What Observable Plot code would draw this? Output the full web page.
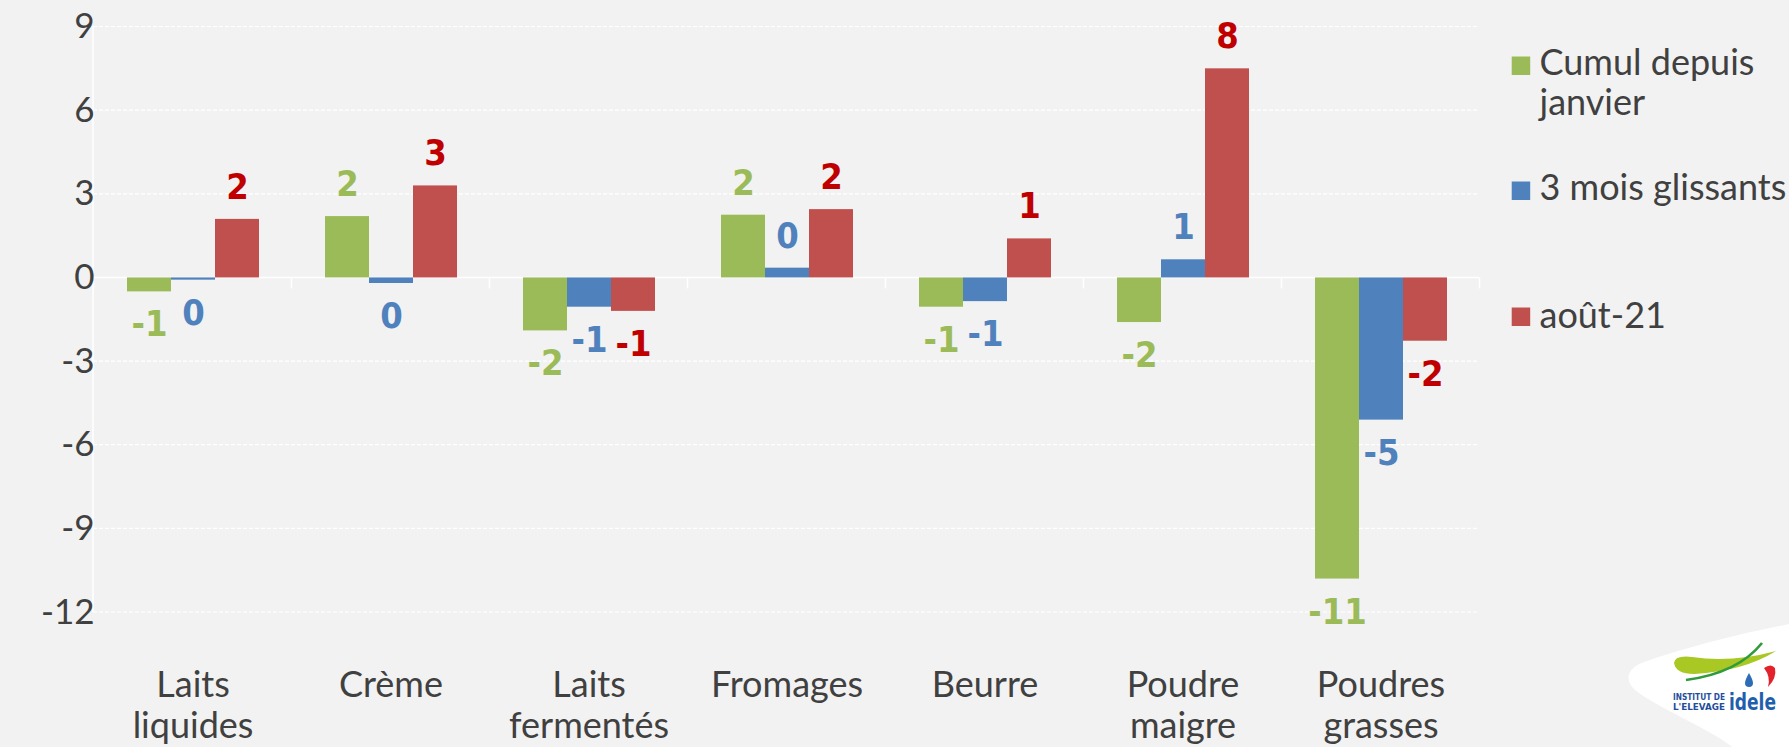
<!DOCTYPE html>
<html>
<head>
<meta charset="utf-8">
<script src="https://cdn.jsdelivr.net/npm/d3@7"></script>
<script src="https://cdn.jsdelivr.net/npm/@observablehq/plot@0.6"></script>
<style>
html, body { margin: 0; padding: 0; background: #F2F2F2; }
#wrap { position: relative; width: 1789px; height: 747px; overflow: hidden; background: #F2F2F2; font-family: Lato, sans-serif; }
#chart { position: absolute; left: 0; top: 0; }
#legend { position: absolute; left: 1500px; top: 0; }
#logo { position: absolute; left: 1620px; top: 610px; }
</style>
</head>
<body>
<div id="wrap">
  <div id="chart"></div>
  <svg id="legend" width="289" height="400"></svg>
  <svg id="logo" width="169" height="137" viewBox="0 0 169 137">
    <path d="M169 14 L169 137 L112 137 C92 120 34 96 15 80 C4 70 7 58 24 52 C70 36 120 24 169 14 Z" fill="#FFFFFF"/>
    <path d="M54 53 Q55 45 72 47 Q112 53 156 41 Q124 61 74 64 Q56 64 54 53 Z" fill="#A9C823"/>
    <path d="M66 70 Q118 63 142 33" fill="none" stroke="#2F9B3C" stroke-width="2.6"/>
    <path d="M144 58 Q151 53 155 58 Q157 68 148 77 Q151 67 144 58 Z" fill="#E3232C"/>
    <path d="M129 63 Q125 70 125 73 Q125 77 129 77 Q133 77 133 73 Q133 70 129 63 Z" fill="#2D6DB5"/>
    <text x="53" y="90" textLength="52" lengthAdjust="spacingAndGlyphs" font-family="'Liberation Sans Narrow', 'DejaVu Sans Condensed', sans-serif" font-weight="bold" font-size="8.5" fill="#1F4E9D">INSTITUT DE</text>
    <text x="53" y="99.5" textLength="52" lengthAdjust="spacingAndGlyphs" font-family="'Liberation Sans Narrow', 'DejaVu Sans Condensed', sans-serif" font-weight="bold" font-size="8.5" fill="#1F4E9D">L'ELEVAGE</text>
    <text x="109" y="100" textLength="47" lengthAdjust="spacingAndGlyphs" font-family="'Liberation Sans Narrow', 'DejaVu Sans Condensed', sans-serif" font-weight="bold" font-size="23" fill="#1F5FAD">idele</text>
  </svg>
</div>
<script>
// ---- Data ----
const categories = ["Laits liquides", "Crème", "Laits fermentés", "Fromages", "Beurre", "Poudre maigre", "Poudres grasses"];
const categoryLabels = ["Laits\nliquides", "Crème", "Laits\nfermentés", "Fromages", "Beurre", "Poudre\nmaigre", "Poudres\ngrasses"];
const series = ["Cumul depuis janvier", "3 mois glissants", "août-21"];
const legendLines = [["Cumul depuis", "janvier"], ["3 mois glissants"], ["août-21"]];

const cumulValues     = [-0.5, 2.2, -1.9, 2.25, -1.05, -1.6, -10.8];
const glissantsValues = [-0.08, -0.2, -1.05, 0.35, -0.85, 0.65, -5.1];
const aoutValues      = [2.1, 3.3, -1.2, 2.45, 1.4, 7.5, -2.27];

const cumulLabels     = ["-1", "2", "-2", "2", "-1", "-2", "-11"];
const glissantsLabels = ["0", "0", "-1", "0", "-1", "1", "-5"];
const aoutLabels      = ["2", "3", "-1", "2", "1", "8", "-2"];

const yTicks = [-12, -9, -6, -3, 0, 3, 6, 9];

const seriesColors = ["#9BBB59", "#4F81BD", "#C0504D"];
const labelColors  = ["#9BBB59", "#4F81BD", "#C00000"];

// ---- Build table ----
const valuesBySeries = [cumulValues, glissantsValues, aoutValues];
const labelsBySeries = [cumulLabels, glissantsLabels, aoutLabels];
const data = [];
series.forEach((s, si) => categories.forEach((c, ci) => {
  data.push({category: c, series: s, value: valuesBySeries[si][ci], label: labelsBySeries[si][ci]});
}));

const labelFont = "'Liberation Sans Narrow', 'DejaVu Sans Condensed', sans-serif";

const labelMarks = series.flatMap((s, si) => [
  Plot.text(data.filter(d => d.series === s && d.value >= 0), {
    fx: "category", x: "series", y: "value", text: "label",
    fill: labelColors[si], dy: -32, lineAnchor: "middle",
    fontWeight: "bold", fontSize: 36, fontFamily: labelFont
  }),
  Plot.text(data.filter(d => d.series === s && d.value < 0), {
    fx: "category", x: "series", y: "value", text: "label",
    fill: labelColors[si], dy: 33, lineAnchor: "middle",
    fontWeight: "bold", fontSize: 36, fontFamily: labelFont
  })
]);

const plot = Plot.plot({
  width: 1500,
  height: 747,
  marginLeft: 93,
  marginRight: 21,
  marginTop: 26.5,
  marginBottom: 135,
  style: {background: "transparent", fontFamily: "Lato, sans-serif", fontSize: "35px", color: "#404040", overflow: "visible"},
  fx: {domain: categories, paddingInner: 0.329, paddingOuter: 0.1645, label: null},
  x: {domain: series, padding: 0, axis: null},
  y: {domain: [-12, 9], label: null},
  color: {domain: series, range: seriesColors},
  marks: [
    Plot.axisY({ticks: yTicks, tickSize: 0, tickPadding: 32, label: null, tickFormat: d => String(d), fontSize: 35, fill: "#404040"}),
    Plot.axisFx({anchor: "bottom", tickSize: 0, tickPadding: 55, label: null, lineHeight: 1.15,
      tickFormat: c => categoryLabels[categories.indexOf(c)], fontSize: 36, fill: "#404040"}),
    Plot.barY(data, {fx: "category", x: "series", y: "value", fill: "series"}),
    ...labelMarks
  ]
});

document.getElementById("chart").appendChild(plot);

// ---- Grid, axis line and category boundary ticks (from the plot's scales) ----
const yS = plot.scale("y");
const fxS = plot.scale("fx");
const [x0, x1] = fxS.range;
const svg = d3.select(plot);
const grid = svg.insert("g", ":first-child");
yTicks.forEach(t => {
  if (t === 0) return;
  grid.append("line")
    .attr("x1", x0).attr("x2", x1)
    .attr("y1", yS.apply(t)).attr("y2", yS.apply(t))
    .attr("stroke", "#FFFFFF").attr("stroke-width", 1.2).attr("stroke-dasharray", "4,2");
});
grid.append("line")
  .attr("x1", x0).attr("x2", x0)
  .attr("y1", yS.apply(yTicks[yTicks.length - 1])).attr("y2", yS.apply(yTicks[0]))
  .attr("stroke", "#FFFFFF").attr("stroke-width", 1.5);
grid.append("line")
  .attr("x1", x0).attr("x2", x1)
  .attr("y1", yS.apply(0)).attr("y2", yS.apply(0))
  .attr("stroke", "#FFFFFF").attr("stroke-width", 1.5);
const half = (fxS.step - fxS.bandwidth) / 2;
const bounds = categories.map(c => fxS.apply(c) - half);
bounds.push(fxS.apply(categories[categories.length - 1]) + fxS.bandwidth + half);
bounds.forEach(bx => {
  grid.append("line")
    .attr("x1", bx).attr("x2", bx)
    .attr("y1", yS.apply(0)).attr("y2", yS.apply(0) + 11)
    .attr("stroke", "#FFFFFF").attr("stroke-width", 1.5);
});

// ---- Legend ----
const legend = d3.select("#legend");
const legendRows = [{sq: 56.5, base: [75, 115]}, {sq: 181.5, base: [200]}, {sq: 307.5, base: [328]}];
series.forEach((s, i) => {
  legend.append("rect").attr("x", 11.7).attr("y", legendRows[i].sq)
    .attr("width", 18.5).attr("height", 18.5).attr("fill", seriesColors[i]);
  legendLines[i].forEach((line, li) => {
    legend.append("text").attr("x", 39.5).attr("y", legendRows[i].base[li])
      .attr("font-family", "Lato, sans-serif").attr("font-size", 36).attr("fill", "#404040")
      .text(line);
  });
});
</script>
</body>
</html>
